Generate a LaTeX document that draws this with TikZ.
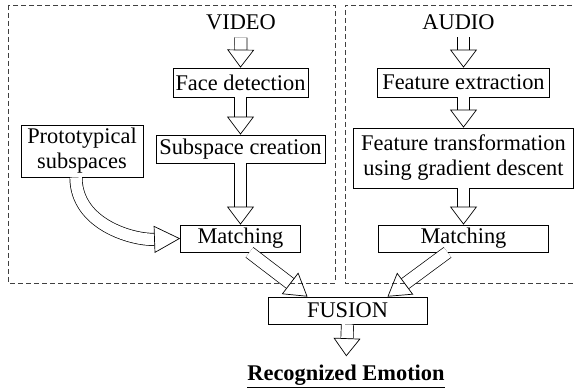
\documentclass[tikz,border=0pt]{standalone}
\usepackage{fontspec}
\setmainfont{Liberation Serif}
\usetikzlibrary{arrows.meta}
\begin{document}
\begin{tikzpicture}[x=1pt, y=1pt, font=\fontsize{22.4}{25}\selectfont,
  box/.style={draw, line width=0.7pt, inner sep=0pt, align=center},
  frame/.style={draw=black!75, line width=0.8pt, dash pattern=on 5pt off 3pt},
  fat/.style={double, double distance=11.6pt, line width=0.7pt,
    -{Triangle[open, length=#1, width=27pt, line width=0.7pt]}},
  fat/.default=18pt]
\useasboundingbox (0,0) rectangle (574,388);
\draw[frame] (8,383) rectangle (335,105);
\draw[frame] (580,383) -- (345,383) -- (345,105) -- (580,105);

\node[anchor=base, inner sep=0pt] (video) at (241,358) {VIDEO};
\node[box, minimum width=135, minimum height=29] (face) at (240.5,305.5) {Face detection};
\node[box, minimum width=169, minimum height=28] (subsp) at (240.5,239) {Subspace creation};
\node[box, minimum width=122, minimum height=52] (proto) at (82,237) {Prototypical\\subspaces};
\node[box, minimum width=120, minimum height=27] (matchv) at (240.5,149.5) {Matching};

\node[anchor=base, inner sep=0pt] (audio) at (458.5,358) {AUDIO};
\node[box, minimum width=172, minimum height=29] (featx) at (463.5,305.5) {Feature extraction};
\node[box, minimum width=220, minimum height=60] (featt) at (463.5,230) {Feature transformation\\using gradient descent};
\node[box, minimum width=170, minimum height=27] (matcha) at (463.5,149.5) {Matching};

\node[box, minimum width=159, minimum height=27] (fusion) at (347.5,77.5) {FUSION};
\node[anchor=base, inner sep=0pt, font=\fontsize{22.4}{25}\selectfont\bfseries] (emo) at (346,7) {\underline{Recognized Emotion}};

\draw[fat, shorten <=7pt] (video.south) -- (face.north);
\draw[fat] (face.south) -- (subsp.north);
\draw[fat] (subsp.south) -- (matchv.north);
\draw[fat=26pt] ([xshift=-6pt]proto.south) to[out=-90, in=182] (matchv.west);

\draw[fat, shorten <=7pt] (featx.north |- audio.south) -- (featx.north);
\draw[fat] (featx.south) -- (featt.north);
\draw[fat] (featt.south) -- (matcha.north);

\draw[fat=22pt] ([xshift=9pt]matchv.south) -- ([xshift=-40pt]fusion.north);
\draw[fat=22pt] ([xshift=-16pt]matcha.south) -- ([xshift=40pt]fusion.north);
\draw[fat, shorten >=9pt] (fusion.south) -- (emo.north);
\end{tikzpicture}
\end{document}
